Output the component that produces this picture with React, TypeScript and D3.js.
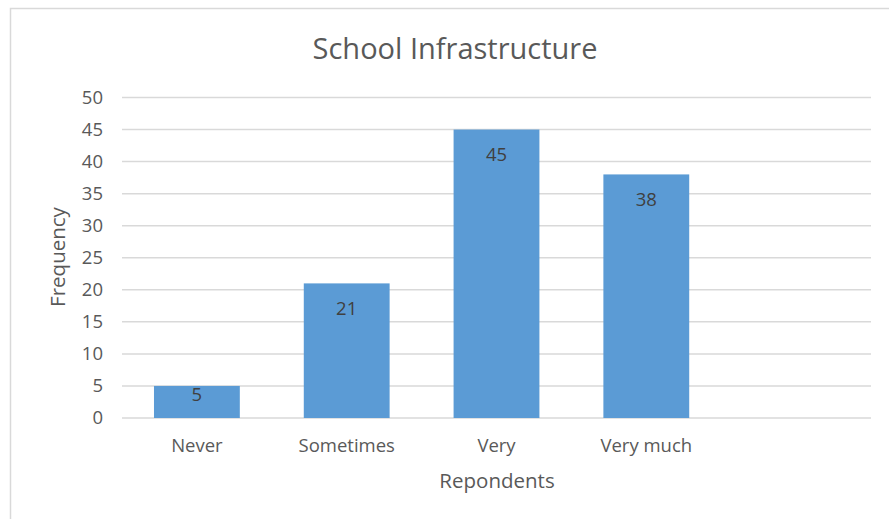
import React from "react";
import * as d3 from "d3";

const categories = ["Never", "Sometimes", "Very", "Very much", ""];
const values = [5, 21, 45, 38, null];
const yTicks = [0, 5, 10, 15, 20, 25, 30, 35, 40, 45, 50];
const title = "School Infrastructure";
const xTitle = "Repondents";
const yTitle = "Frequency";

const W = 889;
const H = 519;
const FONT = "'Open Sans', 'Noto Sans', sans-serif";
const TXT = "#595959";

export default function App() {
  const plotL = 122, plotR = 871, plotT = 97.5, plotB = 418;
  const x = d3.scaleBand<string>().domain(categories).range([plotL, plotR]).paddingInner(0.427).paddingOuter(0.2135);
  const y = d3.scaleLinear().domain([0, 50]).range([plotB, plotT]);
  return (
    <div style={{ position: "fixed", left: 0, top: 0 }}>
      <svg width={W} height={H} style={{ display: "block" }}>
        <rect x={0} y={0} width={W} height={H} fill="#fff" />
        <path d={`M10.5,${H} V8.5 H${W}`} fill="none" stroke="#D9D9D9" strokeWidth={1.5} />
        <text x={455} y={49} dy="0.35em" textAnchor="middle" fontFamily={FONT} fontSize={29} fill={TXT}>{title}</text>
        {yTicks.map((t) => (
          <g key={t}>
            <line x1={plotL} x2={plotR} y1={y(t)} y2={y(t)} stroke="#D9D9D9" strokeWidth={1.5} />
            <text x={103} y={y(t)} dy="0.35em" textAnchor="end" fontFamily={FONT} fontSize={18.5} fill={TXT}>{t}</text>
          </g>
        ))}
        {categories.map((c, i) => {
          const v = values[i];
          const bx = x(c)!;
          const bw = x.bandwidth();
          const cx = bx + bw / 2;
          return (
            <g key={c + i}>
              {v != null && (
                <>
                  <rect x={bx} y={y(v)} width={bw} height={plotB - y(v)} fill="#5B9BD5" />
                  <text x={cx} y={Math.min(y(v) + 25, plotB - 23)} dy="0.35em" textAnchor="middle" fontFamily={FONT} fontSize={18.5} fill="#404040">{v}</text>
                </>
              )}
              {c && (
                <text x={cx} y={446} dy="0.35em" textAnchor="middle" fontFamily={FONT} fontSize={18.5} fill={TXT}>{c}</text>
              )}
            </g>
          );
        })}
        <text x={497} y={481} dy="0.35em" textAnchor="middle" fontFamily={FONT} fontSize={20.5} fill={TXT}>{xTitle}</text>
        <text transform={`translate(58,257) rotate(-90)`} dy="0.35em" textAnchor="middle" fontFamily={FONT} fontSize={20.5} fill={TXT}>{yTitle}</text>
      </svg>
    </div>
  );
}
